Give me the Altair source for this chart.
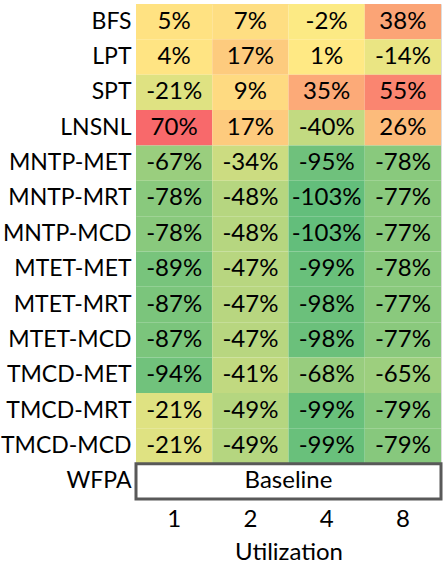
import altair as alt
import pandas as pd

rows = ["BFS", "LPT", "SPT", "LNSNL", "MNTP-MET", "MNTP-MRT", "MNTP-MCD",
        "MTET-MET", "MTET-MRT", "MTET-MCD", "TMCD-MET", "TMCD-MRT", "TMCD-MCD"]
utilization = ["1", "2", "4", "8"]
values = [
    [5, 7, -2, 38],
    [4, 17, 1, -14],
    [-21, 9, 35, 55],
    [70, 17, -40, 26],
    [-67, -34, -95, -78],
    [-78, -48, -103, -77],
    [-78, -48, -103, -77],
    [-89, -47, -99, -78],
    [-87, -47, -98, -77],
    [-87, -47, -98, -77],
    [-94, -41, -68, -65],
    [-21, -49, -99, -79],
    [-21, -49, -99, -79],
]
baseline_row = "WFPA"
baseline_text = "Baseline"
all_rows = rows + [baseline_row]

recs = []
for r, vals in zip(rows, values):
    for u, v in zip(utilization, vals):
        recs.append({"row": r, "util": u, "value": v, "label": f"{v}%"})
df = pd.DataFrame(recs)
base_df = pd.DataFrame([{"row": baseline_row, "label": baseline_text}])

W, H = 305, 495
FONT = "Lato"
FS = 24

yenc = alt.Y("row:N", sort=all_rows, scale=alt.Scale(domain=all_rows, paddingInner=0, paddingOuter=0),
             axis=alt.Axis(title=None, ticks=False, domain=False, labelFontSize=23, labelColor="black",
                           labelPadding=5, labelFont=FONT, labelLimit=200))
xenc = alt.X("util:N", sort=utilization, scale=alt.Scale(domain=utilization, paddingInner=0, paddingOuter=0),
             axis=alt.Axis(title="Utilization", labelAngle=0, ticks=False, domain=False, labelFontSize=FS,
                           labelColor="black", labelPadding=8, titleFontSize=FS, titleFontWeight="normal",
                           titleColor="black", titlePadding=9, labelFont=FONT, titleFont=FONT))

heat = alt.Chart(df).mark_rect().encode(
    x=xenc, y=yenc,
    color=alt.Color("value:Q", legend=None,
                    scale=alt.Scale(domain=[-103, 0, 70], range=["#63BE7B", "#FFEB84", "#F8696B"],
                                    interpolate="rgb")),
)
txt = alt.Chart(df).mark_text(fontSize=FS, font=FONT, color="black").encode(
    x=xenc, y=yenc, text="label:N")

brect = alt.Chart(base_df).mark_rect(fill="white", stroke="#595959", strokeWidth=3).encode(
    x=alt.value(0), x2=alt.value(W), y=yenc)
btxt = alt.Chart(base_df).mark_text(fontSize=FS, font=FONT, color="black").encode(
    x=alt.value(W / 2), y=yenc, text="label:N")

chart = alt.layer(heat, txt, brect, btxt).properties(
    width=W, height=H,
    autosize=alt.AutoSizeParams(type="none"),
    padding={"left": 136, "top": 4, "right": 4, "bottom": 68},
).configure_view(stroke="#595959", strokeWidth=3).configure(background="white")

chart.save("out.html", embed_options={"renderer": "svg", "actions": False})
